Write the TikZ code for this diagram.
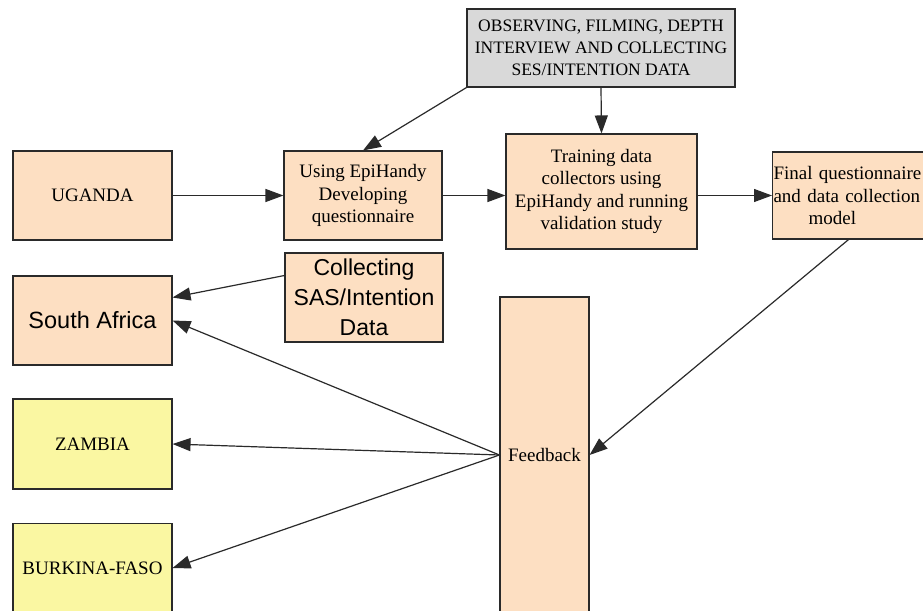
\documentclass[tikz,border=0pt]{standalone}
\usepackage{fontspec}
\setmainfont{Liberation Serif}
\newfontfamily\sansf{Liberation Sans}
\usetikzlibrary{arrows.meta,calc}
\definecolor{peach}{HTML}{FDDFC2}
\definecolor{paleyellow}{HTML}{FAF7A2}
\definecolor{boxgray}{HTML}{D9D9D9}
\definecolor{edge}{HTML}{2A2A2A}
\tikzset{
  box/.style={draw=edge, line width=1.1pt, fill=peach, inner sep=1pt, align=center,
    font=\fontsize{19}{22.5}\selectfont},
  sansbox/.style={box, font=\sansf\fontsize{23.5}{30}\selectfont},
  ybox/.style={box, fill=paleyellow},
  arr/.style={draw=edge, line width=1.2pt, -{Triangle[length=18pt,width=13pt]}}
}
\begin{document}
\begin{tikzpicture}[x=1pt,y=-1pt]
\useasboundingbox (0,0) rectangle (923,610);
\clip (0,0) rectangle (923,610);
\fill[white] (0,0) rectangle (923,610);
% nodes
\node[box, fill=boxgray, minimum width=268, minimum height=78,
  font=\fontsize{17.5}{22}\selectfont] (obs) at (601,48)
  {OBSERVING, FILMING, DEPTH\\INTERVIEW AND COLLECTING\\SES/INTENTION DATA};
\node[box, minimum width=159, minimum height=89] (uganda) at (92.5,195.5) {UGANDA};
\node[box, minimum width=158, minimum height=89] (using) at (363,195.5)
  {Using EpiHandy\\Developing\\questionnaire};
\node[box, minimum width=191, minimum height=115] (train) at (601.5,191.5)
  {Training data\\collectors using\\EpiHandy and running\\validation study};
\node[box, anchor=west, align=left, text width=166, minimum height=87] (final) at (772,195.5)
  {Final questionnaire\\and data collection\\\hspace*{35pt}model};
\node[sansbox, minimum width=159, minimum height=89] (sa) at (92.5,320.5) {South Africa};
\node[sansbox, minimum width=158, minimum height=89,
  font=\sansf\fontsize{23}{30}\selectfont] (coll) at (364,297.5)
  {Collecting\\SAS/Intention\\Data};
\node[ybox, minimum width=159, minimum height=90] (zambia) at (92.5,444) {ZAMBIA};
\node[ybox, minimum width=159, minimum height=89] (burkina) at (92.5,568) {BURKINA-FASO};
\node[box, minimum width=89, minimum height=316] (feedback) at (544.5,455) {Feedback};
% connectors
\draw[arr] (obs.south west) -- (using.north);
\draw[arr] (obs.south) -- (train.north);
\draw[arr] (uganda.east) -- (using.west);
\draw[arr] (using.east) -- (using.east -| train.west);
\draw[arr] (final.west -| train.east) -- (final.west);
\draw[arr] ([xshift=-8pt]final.south) -- (feedback.east);
\draw[arr] ([yshift=22pt]coll.west) -- ([yshift=23pt]sa.east);
\draw[arr] (feedback.west) -- (sa.east);
\draw[arr] (feedback.west) -- (zambia.east);
\draw[arr] (feedback.west) -- (burkina.east);
\end{tikzpicture}
\end{document}
